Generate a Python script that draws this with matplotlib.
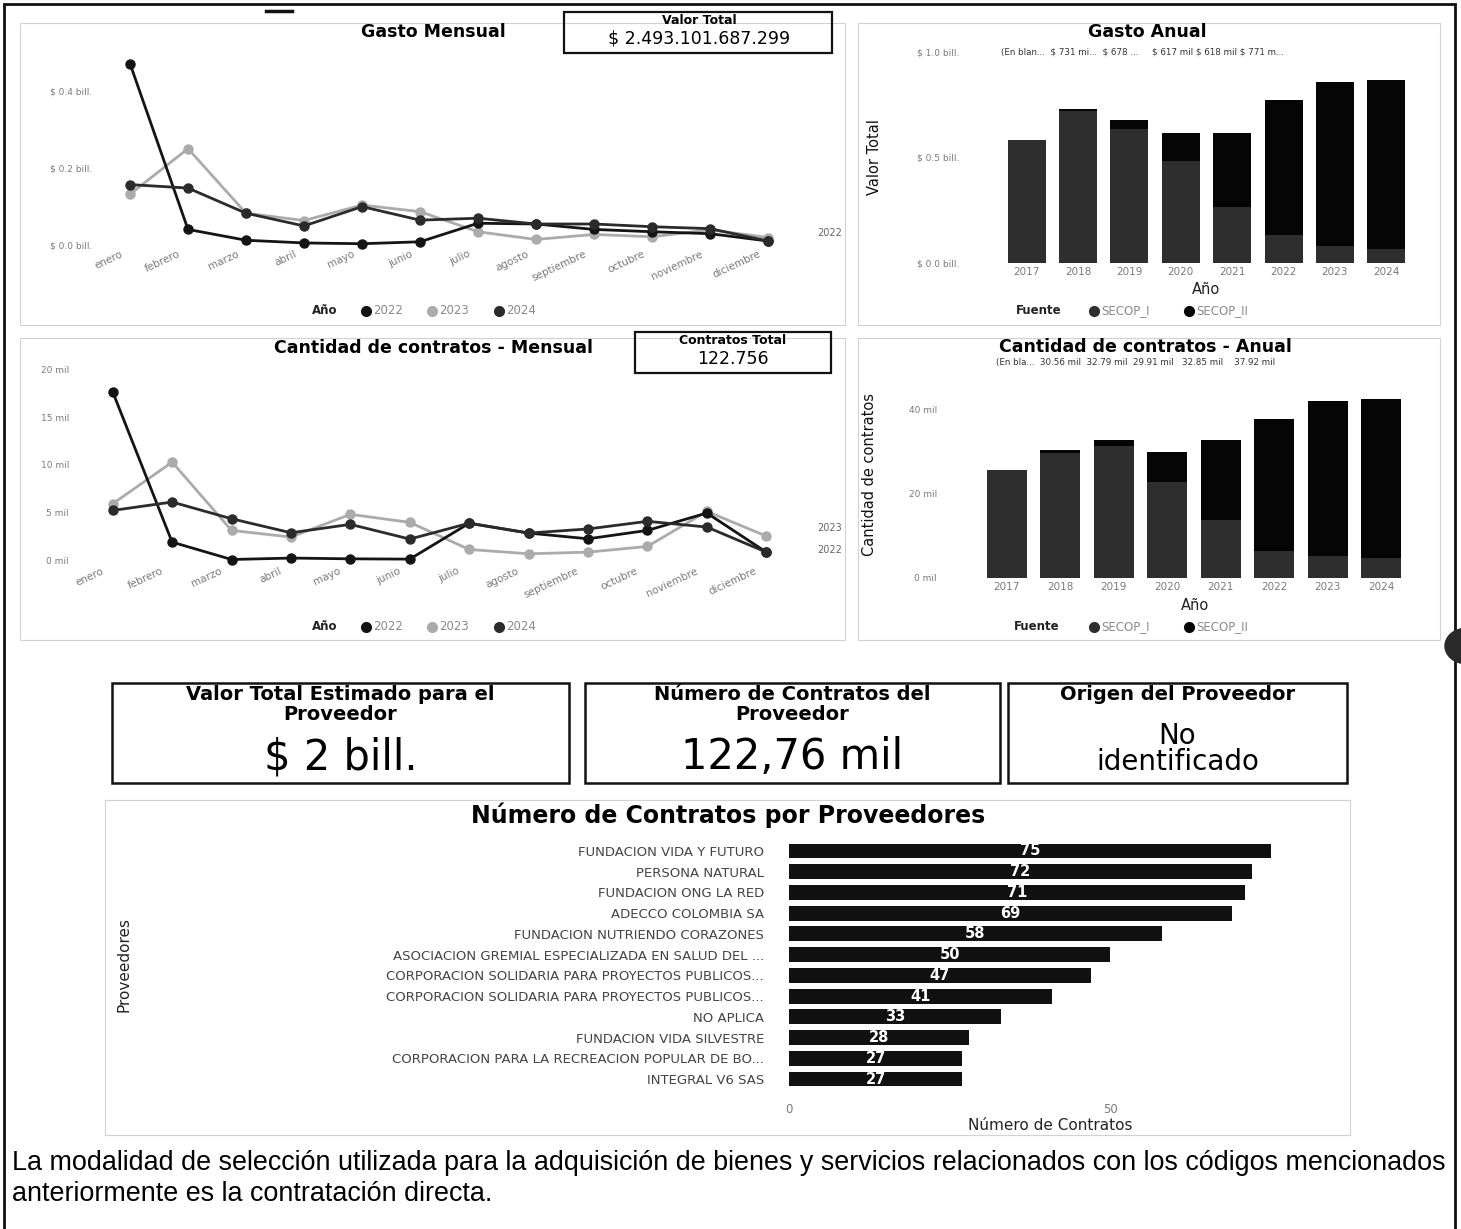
import matplotlib
matplotlib.use('Agg')
import matplotlib.pyplot as plt
from matplotlib.lines import Line2D
from matplotlib.patches import Rectangle, Circle
from matplotlib.transforms import ScaledTranslation

# ---------------- data ----------------
months = ['enero', 'febrero', 'marzo', 'abril', 'mayo', 'junio', 'julio',
          'agosto', 'septiembre', 'octubre', 'noviembre', 'diciembre']
years = ['2022', '2023', '2024']
year_colors = ['#141414', '#ababab', '#2b2b2b']

# Gasto mensual (billones de pesos)
gasto_2022 = [0.470, 0.041, 0.013, 0.006, 0.004, 0.009, 0.057, 0.055, 0.041, 0.035, 0.030, 0.011]
gasto_2023 = [0.132, 0.250, 0.083, 0.064, 0.104, 0.087, 0.035, 0.015, 0.028, 0.022, 0.040, 0.020]
gasto_2024 = [0.157, 0.148, 0.083, 0.050, 0.100, 0.065, 0.070, 0.055, 0.055, 0.048, 0.043, 0.011]

# Cantidad de contratos mensual (miles)
contratos_2022 = [17.66, 1.92, 0.10, 0.25, 0.17, 0.14, 3.90, 2.87, 2.27, 3.15, 4.97, 0.87]
contratos_2023 = [5.94, 10.30, 3.15, 2.45, 4.83, 3.99, 1.15, 0.70, 0.87, 1.47, 5.14, 2.55]
contratos_2024 = [5.24, 6.12, 4.37, 2.90, 3.78, 2.24, 3.90, 2.87, 3.30, 4.10, 3.50, 0.87]

# Anual
anios = ['2017', '2018', '2019', '2020', '2021', '2022', '2023', '2024']
fuentes = ['SECOP_I', 'SECOP_II']
fuente_colors = ['#2e2e2e', '#050505']
gasto_secop_i = [0.584, 0.721, 0.634, 0.484, 0.267, 0.132, 0.079, 0.068]
gasto_secop_ii = [0.000, 0.010, 0.044, 0.133, 0.351, 0.639, 0.781, 0.798]
contratos_secop_i = [25.80, 29.76, 31.44, 22.86, 13.70, 6.35, 5.16, 4.68]
contratos_secop_ii = [0.00, 0.80, 1.35, 7.05, 19.15, 31.57, 37.04, 37.96]

gasto_label_row = '(En blan...  $ 731 mi...  $ 678 ...     $ 617 mil $ 618 mil $ 771 m...'
contratos_label_row = '(En bla...  30.56 mil  32.79 mil  29.91 mil   32.85 mil    37.92 mil'

valor_total = '$ 2.493.101.687.299'
contratos_total = '122.756'

kpi_titles = ['Valor Total Estimado para el\nProveedor', 'Número de Contratos del\nProveedor',
              'Origen del Proveedor']
kpi_values = ['$ 2 bill.', '122,76 mil', 'No\nidentificado']

proveedores = ['FUNDACION VIDA Y FUTURO', 'PERSONA NATURAL', 'FUNDACION ONG LA RED',
               'ADECCO COLOMBIA SA', 'FUNDACION NUTRIENDO CORAZONES',
               'ASOCIACION GREMIAL ESPECIALIZADA EN SALUD DEL ...',
               'CORPORACION SOLIDARIA PARA PROYECTOS PUBLICOS...',
               'CORPORACION SOLIDARIA PARA PROYECTOS PUBLICOS...',
               'NO APLICA', 'FUNDACION VIDA SILVESTRE',
               'CORPORACION PARA LA RECREACION POPULAR DE BO...', 'INTEGRAL V6 SAS']
n_contratos = [75, 72, 71, 69, 58, 50, 47, 41, 33, 28, 27, 27]

caption_lines = ['La modalidad de selección utilizada para la adquisición de bienes y servicios '
                 'relacionados con los códigos mencionados',
                 'anteriormente es la contratación directa.']

# ---------------- figure ----------------
W, H = 1461, 1229
plt.rcParams['font.family'] = ['DejaVu Sans']
fig = plt.figure(figsize=(W / 100, H / 100), dpi=100)
fig.patch.set_facecolor('white')


def fx(x):
    return x / W


def fy(y):
    return 1 - y / H


def ax_px(x0, y0, x1, y1):
    return fig.add_axes([x0 / W, 1 - y1 / H, (x1 - x0) / W, (y1 - y0) / H])


def frame(x0, y0, x1, y1, color='#d2d2d2', lw=0.8):
    fig.add_artist(Rectangle((fx(x0), fy(y1)), (x1 - x0) / W, (y1 - y0) / H,
                             transform=fig.transFigure, fill=False, ec=color, lw=lw))


def clean(ax):
    for s in ax.spines.values():
        s.set_visible(False)
    ax.set_facecolor('none')
    ax.tick_params(length=0, colors='#7a7a7a')


def shift_xticklabels(ax, dx_px, dy_px):
    off = ScaledTranslation(dx_px / 100, dy_px / 100, fig.dpi_scale_trans)
    for lab in ax.get_xticklabels():
        lab.set_transform(lab.get_transform() + off)


def legend_row(x, y, title, labels, colors, xs):
    fig.text(fx(x), fy(y), title, fontsize=8.5, fontweight='bold', va='center', color='#222')
    for lab, c, xm in zip(labels, colors, xs):
        fig.add_artist(Line2D([fx(xm)], [fy(y)], marker='o', ms=7, color=c, ls='',
                              transform=fig.transFigure))
        fig.text(fx(xm + 7), fy(y), lab, fontsize=8.5, va='center', color='#8a8a8a')


# outer frame and artefacts
fig.add_artist(Rectangle((fx(4), fy(1240)), (1455 - 4) / W, (1240 - 4) / H,
                         transform=fig.transFigure, fill=False, ec='#111', lw=2))
fig.add_artist(Line2D([fx(266), fx(292)], [fy(11), fy(11)], color='#111', lw=2.5,
                      transform=fig.transFigure))
fig.add_artist(Circle((fx(1466), fy(646)), 21 / W, transform=fig.transFigure,
                      color='#2a2a2a'))

# panel frames
frame(20, 23, 845, 325)
frame(858, 23, 1440, 325)
frame(20, 338, 845, 640)
frame(858, 338, 1440, 640)
frame(105, 800, 1350, 1135)

# ---------- Gasto Mensual ----------
ax1 = ax_px(101, 52, 797, 253)
clean(ax1)
xm = range(len(months))
for vals, lab, c in zip([gasto_2022, gasto_2023, gasto_2024], years, year_colors):
    ax1.plot(xm, vals, color=c, lw=2, marker='o', ms=6.5, label=lab,
             zorder=2 if c == '#ababab' else 3)
ax1.set_xlim(-0.5, 11.5)
ax1.set_ylim(-0.02, 0.5)
ax1.set_yticks([0.0, 0.2, 0.4])
ax1.set_yticklabels(['$ 0.0 bill.', '$ 0.2 bill.', '$ 0.4 bill.'], fontsize=6.5)
ax1.tick_params(axis='y', pad=6)
ax1.set_xticks(list(xm))
ax1.set_xticklabels(months, rotation=25, ha='right', rotation_mode='anchor', fontsize=7.5)
ax1.tick_params(axis='x', pad=0)
shift_xticklabels(ax1, -10, 4)
ax1.text(11.85, gasto_2022[-1] + 0.02, '2022', fontsize=7, color='#666', va='center')
fig.text(fx(433), fy(32), 'Gasto Mensual', fontsize=12.5, fontweight='bold', ha='center', va='center')
legend_row(312, 311, 'Año', years, year_colors, [366, 432, 499])

fig.add_artist(Rectangle((fx(564), fy(53)), (832 - 564) / W, (53 - 12) / H,
                         transform=fig.transFigure, fill=False, ec='#111', lw=1.6))
fig.text(fx(699), fy(20), 'Valor Total', fontsize=9, fontweight='bold', ha='center', va='center')
fig.text(fx(699), fy(39), valor_total, fontsize=12.5, ha='center', va='center')

# ---------- Gasto Anual ----------
ax2 = ax_px(1001, 52, 1412, 263)
clean(ax2)
xa = range(len(anios))
ax2.bar(xa, gasto_secop_i, width=0.74, color=fuente_colors[0], label=fuentes[0])
ax2.bar(xa, gasto_secop_ii, width=0.74, bottom=gasto_secop_i, color=fuente_colors[1], label=fuentes[1])
ax2.set_xlim(-0.5, 7.5)
ax2.set_ylim(0, 1.0)
ax2.set_yticks([0.0, 0.5, 1.0])
ax2.set_yticklabels(['$ 0.0 bill.', '$ 0.5 bill.', '$ 1.0 bill.'], fontsize=6.5)
ax2.tick_params(axis='y', pad=30)
ax2.set_xticks(list(xa))
ax2.set_xticklabels(anios, fontsize=7.5)
ax2.tick_params(axis='x', pad=3)
ax2.set_ylabel('Valor Total', fontsize=10.5, family='Liberation Sans Narrow', color='#111')
ax2.yaxis.set_label_coords(-0.29, 0.5)
ax2.text(0.0, 1.0, gasto_label_row, transform=ax2.transAxes, fontsize=6.3, color='#333',
         va='center', ha='left')
fig.text(fx(1206), fy(290), 'Año', fontsize=10.5, ha='center', va='center', color='#222')
fig.text(fx(1147), fy(32), 'Gasto Anual', fontsize=12.5, fontweight='bold', ha='center', va='center')
legend_row(1016, 311, 'Fuente', fuentes, fuente_colors, [1094, 1189])

# ---------- Cantidad de contratos mensual ----------
ax3 = ax_px(83, 360, 796, 570)
clean(ax3)
for vals, lab, c in zip([contratos_2022, contratos_2023, contratos_2024], years, year_colors):
    ax3.plot(xm, vals, color=c, lw=2, marker='o', ms=6.5, label=lab,
             zorder=2 if c == '#ababab' else 3)
ax3.set_xlim(-0.5, 11.5)
ax3.set_ylim(-1, 21)
ax3.set_yticks([0, 5, 10, 15, 20])
ax3.set_yticklabels(['0 mil', '5 mil', '10 mil', '15 mil', '20 mil'], fontsize=6.5)
ax3.tick_params(axis='y', pad=10)
ax3.set_xticks(list(xm))
ax3.set_xticklabels(months, rotation=25, ha='right', rotation_mode='anchor', fontsize=7.5)
ax3.tick_params(axis='x', pad=0)
shift_xticklabels(ax3, -12, 4)
ax3.text(11.85, contratos_2023[-1] + 0.8, '2023', fontsize=7, color='#666', va='center')
ax3.text(11.85, contratos_2022[-1] + 0.2, '2022', fontsize=7, color='#666', va='center')
fig.text(fx(433), fy(348), 'Cantidad de contratos - Mensual', fontsize=12.5, fontweight='bold',
         ha='center', va='center')
legend_row(312, 627, 'Año', years, year_colors, [366, 432, 499])

fig.add_artist(Rectangle((fx(635), fy(373)), (831 - 635) / W, (373 - 332) / H,
                         transform=fig.transFigure, fill=False, ec='#111', lw=1.6))
fig.text(fx(733), fy(340), 'Contratos Total', fontsize=9, fontweight='bold', ha='center', va='center')
fig.text(fx(733), fy(359), contratos_total, fontsize=12.5, ha='center', va='center')

# ---------- Cantidad de contratos anual ----------
ax4 = ax_px(980, 389, 1408, 578)
clean(ax4)
ax4.bar(xa, contratos_secop_i, width=0.74, color=fuente_colors[0], label=fuentes[0])
ax4.bar(xa, contratos_secop_ii, width=0.74, bottom=contratos_secop_i, color=fuente_colors[1],
        label=fuentes[1])
ax4.set_xlim(-0.5, 7.5)
ax4.set_ylim(0, 45)
ax4.set_yticks([0, 20, 40])
ax4.set_yticklabels(['0 mil', '20 mil', '40 mil'], fontsize=6.5)
ax4.tick_params(axis='y', pad=31)
ax4.set_xticks(list(xa))
ax4.set_xticklabels(anios, fontsize=7.5)
ax4.tick_params(axis='x', pad=3)
ax4.set_ylabel('Cantidad de contratos', fontsize=10.5, family='Liberation Sans Narrow', color='#111')
ax4.yaxis.set_label_coords(-0.24, 0.55)
fig.text(fx(996), fy(363), contratos_label_row, fontsize=6.3, color='#333', va='center', ha='left')
fig.text(fx(1195), fy(606), 'Año', fontsize=10.5, ha='center', va='center', color='#222')
fig.text(fx(1145), fy(347), 'Cantidad de contratos - Anual', fontsize=12.5, fontweight='bold',
         ha='center', va='center')
legend_row(1014, 627, 'Fuente', fuentes, fuente_colors, [1094, 1189])

# ---------- KPI cards ----------
cards = [(112, 569), (585, 1000), (1008, 1347)]
for (x0, x1), t, v in zip(cards, kpi_titles, kpi_values):
    fig.add_artist(Rectangle((fx(x0), fy(783)), (x1 - x0) / W, (783 - 683) / H,
                             transform=fig.transFigure, fill=False, ec='#111', lw=1.8))
    cx = (x0 + x1) / 2
    fig.text(fx(cx), fy(685), t, fontsize=14, fontweight='bold', ha='center', va='top',
             linespacing=1.05)
    if '\n' in v:
        fig.text(fx(cx), fy(749), v, fontsize=20, ha='center', va='center', linespacing=0.95)
    else:
        fig.text(fx(cx), fy(757), v, fontsize=30, ha='center', va='center')

# ---------- Número de contratos por proveedores ----------
ax5 = ax_px(789, 840.6, 1303, 1089.4)
clean(ax5)
yp = range(len(proveedores))
bars = ax5.barh(yp, n_contratos, height=0.72, color='#111111')
ax5.set_ylim(len(proveedores) - 0.5, -0.5)
ax5.set_xlim(0, 80)
for b, v in zip(bars, n_contratos):
    ax5.text(b.get_width() / 2, b.get_y() + b.get_height() / 2, str(v), color='white',
             fontsize=10.5, fontweight='bold', ha='center', va='center')
ax5.set_yticks(list(yp))
ax5.set_yticklabels(proveedores, fontsize=9.5, color='#444')
ax5.tick_params(axis='y', pad=18)
ax5.set_xticks([0, 50])
ax5.set_xticklabels(['0', '50'], fontsize=8.5)
ax5.tick_params(axis='x', pad=10)
ax5.set_xlabel('Número de Contratos', fontsize=11, color='#222')
ax5.xaxis.set_label_coords(0.508, -0.115)
ax5.set_ylabel('Proveedores', fontsize=11, color='#222')
ax5.yaxis.set_label_coords(-1.28, 0.5)
fig.text(fx(728), fy(815), 'Número de Contratos por Proveedores', fontsize=17, fontweight='bold',
         ha='center', va='center')

# ---------- caption ----------
fig.text(fx(12), fy(1170), caption_lines[0], fontsize=19.4, family='Liberation Sans', ha='left',
         va='baseline')
fig.text(fx(12), fy(1201), caption_lines[1], fontsize=19.4, family='Liberation Sans', ha='left',
         va='baseline')

fig.savefig('out.png', dpi=100, facecolor='white')
